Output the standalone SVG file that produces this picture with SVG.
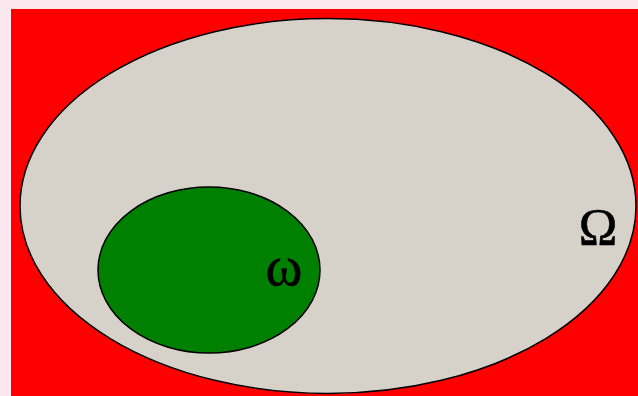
<svg xmlns="http://www.w3.org/2000/svg" width="638" height="396" viewBox="0 0 638 396">
<style>
.lbl{font-family:"Liberation Serif","DejaVu Serif",serif;fill:#000;text-anchor:middle;stroke:#000;stroke-width:0.6}
.sh{stroke:#000;stroke-width:1.5}
</style>
<rect x="0" y="0" width="638" height="396" fill="#fbe8ee"/>
<rect x="11" y="9" width="627" height="387" fill="#ff0000"/>
<g id="Omega">
<ellipse class="sh" cx="328" cy="206" rx="308" ry="187.5" fill="#d6d2ca"/>
<text class="lbl" x="598" y="245" font-size="52">Ω</text>
</g>
<g id="omega">
<ellipse class="sh" cx="209" cy="270" rx="111" ry="83" fill="#008000"/>
<text class="lbl" x="284" y="285" font-size="56">ω</text>
</g>
<g id="connectors"></g>
</svg>
